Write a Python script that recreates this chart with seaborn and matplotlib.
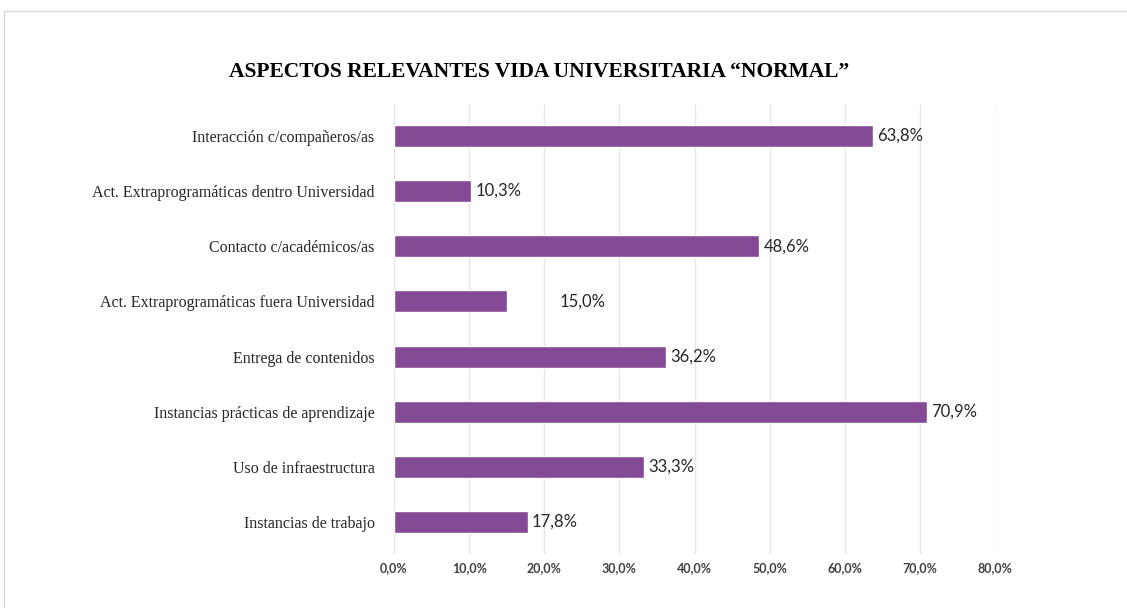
import matplotlib as mpl
from matplotlib import pyplot as plt
from matplotlib.patches import Rectangle
import pandas as pd
import seaborn as sns

categories = [
    "Interacción c/compañeros/as",
    "Act. Extraprogramáticas dentro Universidad",
    "Contacto c/académicos/as",
    "Act. Extraprogramáticas fuera Universidad",
    "Entrega de contenidos",
    "Instancias prácticas de aprendizaje",
    "Uso de infraestructura",
    "Instancias de trabajo",
]
values = [63.8, 10.3, 48.6, 15.0, 36.2, 70.9, 33.3, 17.8]
x_ticks = [0, 10, 20, 30, 40, 50, 60, 70, 80]
title = "ASPECTOS RELEVANTES VIDA UNIVERSITARIA “NORMAL”"

BAR_COLOR = "#844a96"

sns.set_style("white")
plt.rcParams["font.family"] = ["Liberation Serif", "DejaVu Serif"]

df = pd.DataFrame({"categoria": categories, "valor": values})

fig = plt.figure(figsize=(11.27, 6.08), dpi=100)
ax = fig.add_axes([0.3496, 0.0888, 0.5333, 0.7402])

sns.barplot(
    data=df,
    x="valor",
    y="categoria",
    orient="h",
    color=BAR_COLOR,
    width=0.4,
    saturation=1,
    ax=ax,
)

ax.set_xlim(0, 80)
ax.set_ylim(len(categories) - 0.42, -0.58)
ax.set_xticks(x_ticks)
ax.set_xticklabels(
    [f"{t:.1f}%".replace(".", ",") for t in x_ticks],
    fontsize=9,
    fontweight="bold",
    color="#404040",
    family=["Lato", "DejaVu Sans"],
)
ax.tick_params(axis="y", labelsize=11.5, colors="#262626", length=0, pad=14)
ax.tick_params(axis="x", length=0, pad=6)
ax.set_xlabel("")
ax.set_ylabel("")
ax.grid(axis="x", color="#e4e4e4", linewidth=1)
ax.set_axisbelow(True)
for side in ax.spines.values():
    side.set_visible(False)

# one label sits further out in the original
label_shift = {3: 35}
for i, v in enumerate(values):
    ax.annotate(
        f"{v:.1f}%".replace(".", ","),
        xy=(v, i),
        xytext=(3 + label_shift.get(i, 0), 0),
        textcoords="offset points",
        va="center",
        ha="left",
        fontsize=12,
        color="#262626",
        family=["Lato", "DejaVu Sans"],
    )

fig.text(
    0.478,
    0.881,
    title,
    ha="center",
    va="center",
    fontsize=15.5,
    fontweight="bold",
    color="black",
)

# light frame around the chart area
fig.patches.append(
    Rectangle(
        (4 / 1127, -0.05),
        1.1,
        1 - 11 / 608 + 0.05,
        transform=fig.transFigure,
        fill=False,
        edgecolor="#d9d9d9",
        linewidth=1,
    )
)

fig.savefig("out.png", dpi=100)
